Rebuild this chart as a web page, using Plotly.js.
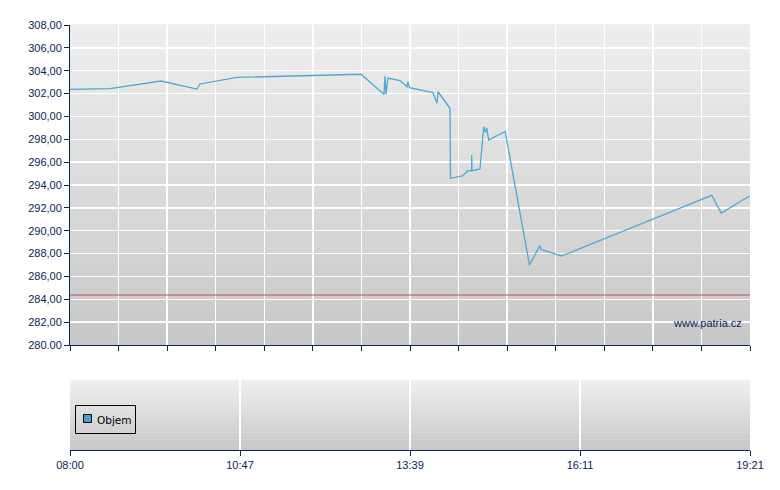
<!DOCTYPE html>
<html>
<head>
<meta charset="utf-8">
<script src="https://cdn.plot.ly/plotly-3.0.1.min.js"></script>
<style>html,body{margin:0;padding:0;background:#fff;}#chart{width:780px;height:490px;}</style>
</head>
<body>
<div id="chart"></div>
<script>
// x positions: minutes after 08:00 on the chart's session scale (0 .. 680)
var timeIdx = [0, 40, 91, 127, 130, 167, 291, 314, 315, 316, 318, 330, 337, 338, 339.5, 363, 367, 368, 380, 380.5, 392.5, 398, 401.7, 401.7, 402, 410, 413.7, 415.3, 416.7, 418.7, 435.3, 437.3, 459.5, 470, 470.7, 491.5, 641.7, 651.3, 679.5];
var price   = [302.37, 302.44, 303.10, 302.40, 302.84, 303.41, 303.69, 301.94, 303.54, 301.94, 303.36, 303.13, 302.60, 303.04, 302.51, 302.08, 301.18, 302.16, 300.71, 294.59, 294.79, 295.25, 295.25, 296.63, 295.25, 295.40, 299.10, 298.58, 299.01, 297.94, 298.68, 297.65, 287.00, 288.71, 288.37, 287.79, 293.10, 291.55, 293.04];
var refLevel = 284.38;
var refX = [0, 680];

var yTickVals = [280, 282, 284, 286, 288, 290, 292, 294, 296, 298, 300, 302, 304, 306, 308];
var yTickText = ["280.00", "282,00", "284,00", "286,00", "288,00", "290,00", "292,00", "294,00", "296,00", "298,00", "300,00", "302,00", "304,00", "306,00", "308,00"];
var xTickVals = [0, 170, 340, 510, 680];
var xTickText = ["08:00", "10:47", "13:39", "16:11", "19:21"];
var legendName = "Objem";
var watermark = "www.patria.cz";

var navy = "#0b2457";
var font = {family: "Liberation Sans, Arial, sans-serif", size: 11, color: navy};

// paper coordinate helpers (plot area: x 70..750, y 25..450)
function px(x) { return (x - 70) / 680; }
function py(y) { return (450 - y) / 425; }

// gradient backgrounds via thin bands
function bands(xref, yref, n, c0, c1) {
  var out = [];
  for (var i = 0; i < n; i++) {
    var t = i / (n - 1);
    var c = Math.round(c0 + (c1 - c0) * t);
    out.push({type: "rect", xref: xref, yref: yref, x0: 0, x1: 1,
      y0: 1 - (i + 1) / n, y1: 1 - i / n + 0.002, layer: "below",
      line: {width: 0}, fillcolor: "rgb(" + c + "," + c + "," + c + ")"});
  }
  return out;
}
var shapes = bands("x domain", "y domain", 60, 238, 200).concat(bands("x2 domain", "y2 domain", 20, 238, 200));
// legend box + swatch
shapes.push({type: "rect", xref: "paper", yref: "paper", x0: px(75.5), x1: px(135.5), y0: py(433.5), y1: py(405.5),
  line: {color: "#000", width: 1}, fillcolor: "rgba(0,0,0,0)", layer: "above"});
shapes.push({type: "rect", xref: "paper", yref: "paper", x0: px(83.5), x1: px(91.5), y0: py(422.5), y1: py(414.5),
  line: {color: "#000", width: 1}, fillcolor: "#4a9fcc", layer: "above"});

var traces = [
  {x: timeIdx, y: price, type: "scatter", mode: "lines", xaxis: "x", yaxis: "y",
   line: {color: "#4ea9d2", width: 1.3}, showlegend: false, hoverinfo: "skip"},
  {x: refX, y: [refLevel, refLevel], type: "scatter", mode: "lines", xaxis: "x", yaxis: "y",
   line: {color: "rgba(200,90,95,0.75)", width: 1.6}, showlegend: false, hoverinfo: "skip"},
  {x: [null], y: [null], type: "bar", xaxis: "x2", yaxis: "y2", name: legendName,
   marker: {color: "#4a9fcc"}, showlegend: false}
];

var layout = {
  width: 780, height: 490,
  margin: {l: 70, r: 30, t: 25, b: 40},
  paper_bgcolor: "#ffffff", plot_bgcolor: "rgba(0,0,0,0)",
  font: font,
  showlegend: false,
  xaxis: {domain: [0, 1], anchor: "y", range: [0, 680], tick0: 0, dtick: 680 / 14,
    showticklabels: false, ticks: "outside", ticklen: 5, tickcolor: navy, tickwidth: 1,
    showline: true, linecolor: navy, linewidth: 1, showgrid: true, gridcolor: "#ffffff", gridwidth: 1.5,
    zeroline: false, fixedrange: true},
  yaxis: {domain: [0.247, 1], anchor: "x", range: [280, 308], tickvals: yTickVals, ticktext: yTickText,
    ticks: "outside", ticklen: 5, tickcolor: navy, tickwidth: 1, showline: true, linecolor: navy, linewidth: 1,
    showgrid: true, gridcolor: "#ffffff", gridwidth: 1.5, zeroline: false, tickfont: font},
  xaxis2: {domain: [0, 1], anchor: "y2", range: [0, 680], tickvals: xTickVals, ticktext: xTickText,
    ticks: "outside", ticklen: 5, tickcolor: navy, tickwidth: 1, showline: true, linecolor: navy, linewidth: 1,
    showgrid: true, gridcolor: "#ffffff", gridwidth: 1.5, zeroline: false, tickfont: font},
  yaxis2: {domain: [0, 0.1647], anchor: "x2", range: [0, 1], showgrid: false, showticklabels: false,
    showline: false, zeroline: false, ticks: ""},
  shapes: shapes,
  annotations: [
    {text: watermark, xref: "paper", yref: "paper", x: px(744), y: py(323),
     xanchor: "right", yanchor: "middle", showarrow: false,
     font: {family: "Liberation Sans, Arial, sans-serif", size: 11, color: navy}},
    {text: legendName, xref: "paper", yref: "paper", x: px(94.5), y: py(419.5),
     xanchor: "left", yanchor: "middle", showarrow: false,
     font: {family: "DejaVu Sans, sans-serif", size: 10.5, color: "#000"}}
  ]
};

Plotly.newPlot("chart", traces, layout, {staticPlot: true, displayModeBar: false});
</script>
</body>
</html>
